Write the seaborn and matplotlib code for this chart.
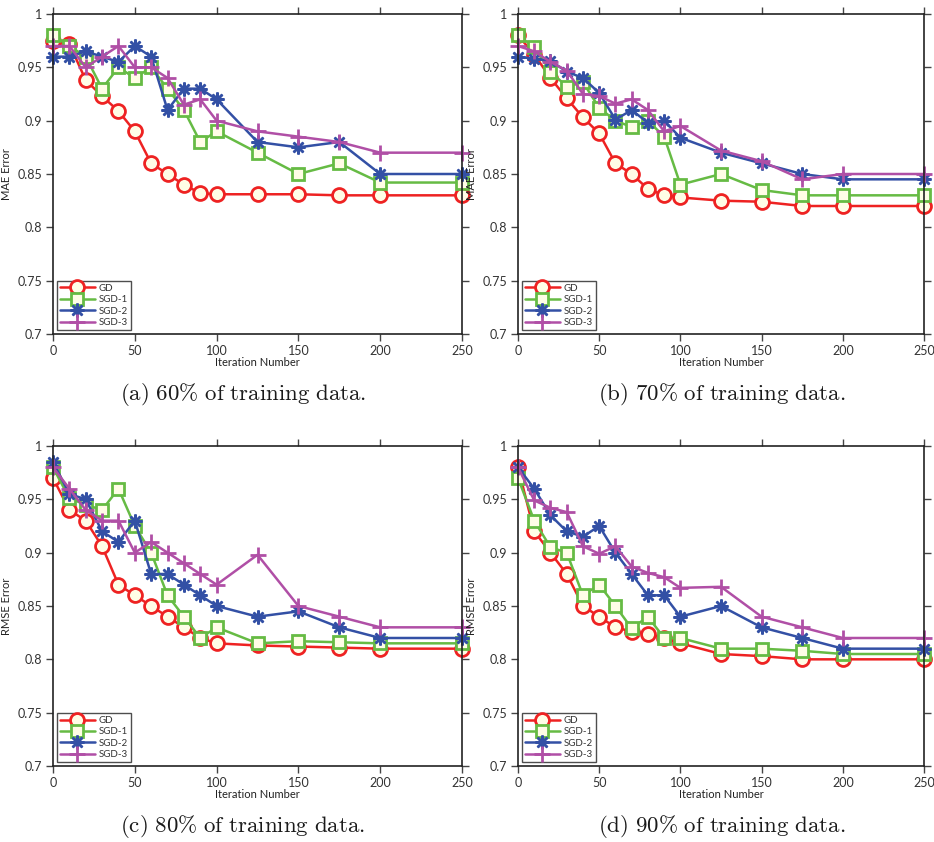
import numpy as np
import pandas as pd
import matplotlib
matplotlib.use("Agg")
import matplotlib.pyplot as plt
import seaborn as sns
from matplotlib.ticker import FuncFormatter

iters = [0, 10, 20, 30, 40, 50, 60, 70, 80, 90, 100, 125, 150, 175, 200, 250]
methods = ["GD", "SGD-1", "SGD-2", "SGD-3"]

# (a) 60% MAE
a_gd   = [0.975, 0.972, 0.938, 0.923, 0.909, 0.890, 0.860, 0.850, 0.840, 0.832, 0.831, 0.831, 0.831, 0.830, 0.830, 0.830]
a_sgd1 = [0.980, 0.970, 0.960, 0.930, 0.950, 0.940, 0.950, 0.930, 0.910, 0.880, 0.890, 0.870, 0.850, 0.860, 0.842, 0.842]
a_sgd2 = [0.960, 0.960, 0.965, 0.960, 0.955, 0.970, 0.960, 0.910, 0.930, 0.930, 0.920, 0.880, 0.875, 0.880, 0.850, 0.850]
a_sgd3 = [0.970, 0.970, 0.950, 0.960, 0.970, 0.950, 0.950, 0.940, 0.915, 0.920, 0.900, 0.890, 0.885, 0.880, 0.870, 0.870]
# (b) 70% MAE
b_gd   = [0.980, 0.962, 0.940, 0.921, 0.903, 0.888, 0.860, 0.850, 0.836, 0.830, 0.828, 0.825, 0.824, 0.820, 0.820, 0.820]
b_sgd1 = [0.980, 0.969, 0.946, 0.932, 0.936, 0.912, 0.900, 0.894, 0.900, 0.885, 0.840, 0.850, 0.835, 0.830, 0.830, 0.830]
b_sgd2 = [0.960, 0.958, 0.956, 0.946, 0.940, 0.926, 0.901, 0.910, 0.898, 0.900, 0.884, 0.870, 0.860, 0.850, 0.845, 0.845]
b_sgd3 = [0.970, 0.965, 0.955, 0.947, 0.925, 0.923, 0.916, 0.920, 0.910, 0.890, 0.895, 0.872, 0.862, 0.845, 0.850, 0.850]
# (c) 80% RMSE
c_gd   = [0.970, 0.940, 0.930, 0.906, 0.870, 0.860, 0.850, 0.840, 0.830, 0.820, 0.815, 0.813, 0.812, 0.811, 0.810, 0.810]
c_sgd1 = [0.980, 0.951, 0.945, 0.940, 0.960, 0.925, 0.900, 0.860, 0.840, 0.820, 0.830, 0.815, 0.817, 0.816, 0.815, 0.815]
c_sgd2 = [0.985, 0.955, 0.950, 0.920, 0.910, 0.930, 0.880, 0.880, 0.870, 0.860, 0.850, 0.840, 0.845, 0.830, 0.820, 0.820]
c_sgd3 = [0.980, 0.960, 0.940, 0.930, 0.930, 0.900, 0.910, 0.900, 0.890, 0.880, 0.870, 0.898, 0.850, 0.840, 0.830, 0.830]
# (d) 90% RMSE
d_gd   = [0.980, 0.920, 0.900, 0.880, 0.850, 0.840, 0.830, 0.826, 0.824, 0.820, 0.815, 0.805, 0.803, 0.800, 0.800, 0.800]
d_sgd1 = [0.970, 0.930, 0.905, 0.900, 0.860, 0.870, 0.850, 0.829, 0.840, 0.820, 0.820, 0.810, 0.810, 0.808, 0.805, 0.805]
d_sgd2 = [0.980, 0.960, 0.935, 0.920, 0.915, 0.925, 0.900, 0.880, 0.860, 0.860, 0.840, 0.850, 0.830, 0.820, 0.810, 0.810]
d_sgd3 = [0.980, 0.949, 0.942, 0.938, 0.906, 0.899, 0.906, 0.887, 0.881, 0.877, 0.867, 0.868, 0.840, 0.830, 0.820, 0.820]

panels = [
    ("a", "MAE Error", "(a)\\ 60\\%\\ of\\ training\\ data.", [a_gd, a_sgd1, a_sgd2, a_sgd3]),
    ("b", "MAE Error", "(b)\\ 70\\%\\ of\\ training\\ data.", [b_gd, b_sgd1, b_sgd2, b_sgd3]),
    ("c", "RMSE Error", "(c)\\ 80\\%\\ of\\ training\\ data.", [c_gd, c_sgd1, c_sgd2, c_sgd3]),
    ("d", "RMSE Error", "(d)\\ 90\\%\\ of\\ training\\ data.", [d_gd, d_sgd1, d_sgd2, d_sgd3]),
]

sns.set_theme(style="ticks")
plt.rcParams["font.family"] = ["Lato", "DejaVu Sans"]
plt.rcParams["mathtext.fontset"] = "cm"

colors = {"GD": "#ee2222", "SGD-1": "#66bb44", "SGD-2": "#3350a5", "SGD-3": "#b04fa6"}
face = "#fffde6"
mstyle = {
    "GD": dict(marker="o", markersize=10, markeredgewidth=2.0, markerfacecolor=face),
    "SGD-1": dict(marker="s", markersize=8.5, markeredgewidth=2.0, markerfacecolor=face),
    "SGD-2": dict(marker=(8, 2, 0), markersize=10, markeredgewidth=1.8),
    "SGD-3": dict(marker="+", markersize=11, markeredgewidth=2.0),
}

W, H = 934, 842
fig = plt.figure(figsize=(W / 100, H / 100), dpi=100)
boxes = {
    "a": (53, 14, 462, 334),
    "b": (518, 14, 924, 334),
    "c": (53, 446, 462, 766),
    "d": (518, 446, 924, 766),
}
cap_pos = {"a": (243, 395), "b": (722, 395), "c": (243, 827), "d": (722, 827)}

for key, ylab, cap, series in panels:
    x0, y0, x1, y1 = boxes[key]
    ax = fig.add_axes([x0 / W, 1 - y1 / H, (x1 - x0) / W, (y1 - y0) / H])
    for name, vals in zip(methods, series):
        df = pd.DataFrame({"Iteration": iters, "Error": vals})
        sns.lineplot(data=df, x="Iteration", y="Error", ax=ax, color=colors[name],
                     linewidth=1.8, label=name, markeredgecolor=colors[name],
                     clip_on=False, **mstyle[name])
    ax.set_xlim(0, 250)
    ax.set_ylim(0.7, 1.0)
    ax.set_xticks([0, 50, 100, 150, 200, 250])
    ax.set_yticks([0.7, 0.75, 0.8, 0.85, 0.9, 0.95, 1.0])
    ax.yaxis.set_major_formatter(FuncFormatter(lambda v, p: f"{v:g}"))
    for s in ax.spines.values():
        s.set_visible(True)
        s.set_color("#222222")
        s.set_linewidth(1.2)
    ax.tick_params(axis="both", direction="out", length=5, width=1.0, color="#444444",
                   labelsize=9, labelcolor="#333333", top=True, right=True, pad=3)
    ax.set_xlabel("Iteration Number", fontsize=8, color="#222222", labelpad=0)
    ax.set_ylabel(ylab, fontsize=8, color="#222222", labelpad=4)
    leg = ax.legend(loc="lower left", fontsize=7, frameon=True, fancybox=False,
                    handlelength=3.6, borderpad=0.3, labelspacing=0.25,
                    handletextpad=0.4, borderaxespad=0.4)
    leg.get_frame().set_edgecolor("#222222")
    leg.get_frame().set_linewidth(1.0)
    for t in leg.get_texts():
        t.set_color("#333333")
    cx, cy = cap_pos[key]
    fig.text(cx / W, 1 - cy / H, "$\\mathrm{" + cap + "}$", fontsize=16.5,
             ha="center", va="center", color="#1a1a1a")

fig.savefig("out.png", dpi=100)
